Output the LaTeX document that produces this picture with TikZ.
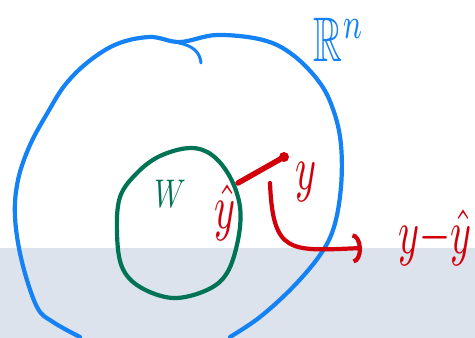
\documentclass[tikz,border=0pt]{standalone}
\usepackage{amsmath}
\usepackage{amssymb}
\usepackage{xcolor}
\usetikzlibrary{arrows.meta, positioning, calc}
\definecolor{penblue}{RGB}{20,130,245}
\definecolor{pengreen}{RGB}{0,115,85}
\definecolor{penred}{RGB}{210,0,10}
\definecolor{bandgray}{RGB}{221,227,236}

\begin{document}
\begin{tikzpicture}[
        x=1pt, y=-1pt,
        pen/.style={line width=4.2pt, line cap=round, line join=round},
        label/.style={inner sep=0pt},
        handlabel/.style={label, xscale=4, yscale=6.3},
        arrow/.style={-{Arc Barb[length=9pt, width=30pt]}, pen, penred}
    ]
        \useasboundingbox (0,0) rectangle (475,338);
        \fill[bandgray] (0,248) rectangle (475,338);

        % space R^n
        \draw[pen, penblue] plot[smooth, tension=0.6] coordinates {
            (80,337) (53,322) (37,307) (22,262) (15,217) (18,180) (30,145)
            (48,112) (65,85) (88,62) (117,44) (150,37) (180,42) (217,35)
            (263,40) (293,55) (320,83) (334,112) (341,145) (341,187)
            (334,227) (320,255) (293,287) (260,317) (230,337)};
        \draw[pen, penblue, line width=3pt] (179,43) .. controls (194,46) and (200,53) .. (201,63);
        \node[handlabel, penblue] (space) at (339,40) {$\mathbb{R}^n$};

        % subspace W
        \draw[pen, pengreen] plot[smooth cycle, tension=0.6] coordinates {
            (190,148) (212,155) (230,177) (240,207) (238,240) (227,273)
            (207,290) (173,298) (140,287) (122,267) (117,233) (120,197)
            (137,173) (160,156)};
        \node[label, pengreen, xscale=2.9, yscale=4] (sub) at (170,194) {$W$};

        % projection
        \coordinate (proj) at (238,183);
        \coordinate (vec) at (284,157);
        \draw[pen, penred, line width=5.5pt] (proj) -- (vec);
        \fill[penred] (vec) circle (5pt);
        \node[handlabel, penred] (yvec) at (306,182) {$y$};
        \node[handlabel, penred] (yhat) at (225,213) {$\hat{y}$};

        % residual
        \coordinate (start) at (270,183);
        \node[handlabel, penred] (resid) at (435,238) {$y{-}\hat{y}$};
        \draw[arrow] (start) .. controls (273,255) and (290,251) .. (362,248);
    \end{tikzpicture}
\end{document}
